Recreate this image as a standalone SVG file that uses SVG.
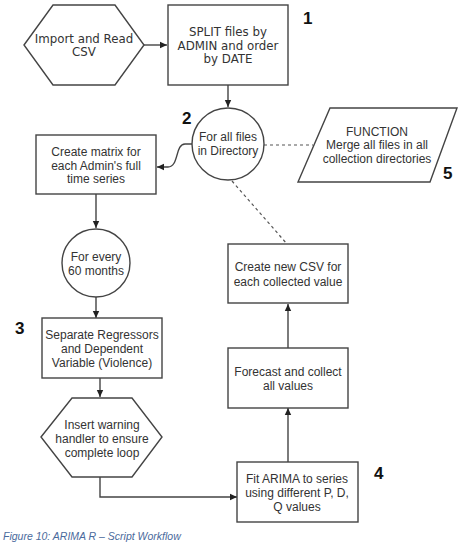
<svg xmlns="http://www.w3.org/2000/svg" width="469" height="560" viewBox="0 0 469 560">
<defs>
<marker id="ah" markerWidth="8" markerHeight="8" refX="7" refY="4" orient="auto" markerUnits="userSpaceOnUse">
<path d="M0,0.8 L7,4 L0,7.2 Z" fill="#222"/>
</marker>
<style>
.shape{fill:#fff;stroke:#444;stroke-width:1.4}
.t{font-family:"Liberation Sans",Arial,sans-serif;font-size:12px;fill:#333;text-anchor:middle}
.tv{font-family:"DejaVu Sans",Verdana,sans-serif;font-size:11.8px;fill:#333;text-anchor:middle}
.num{font-family:"Liberation Sans",Arial,sans-serif;font-size:17px;font-weight:bold;fill:#111}
.conn{fill:none;stroke:#444;stroke-width:1.4}
.dash{fill:none;stroke:#555;stroke-width:1.2;stroke-dasharray:3,3}
.cap{font-family:"Liberation Sans",Arial,sans-serif;font-size:10.5px;font-style:italic;fill:#4a6a9c}
</style>
</defs>
<rect width="469" height="560" fill="#fff"/>
<g id="connectors">
<line class="conn" x1="144" y1="45" x2="167" y2="45" marker-end="url(#ah)"/>
<line class="conn" x1="228" y1="85" x2="228" y2="107" marker-end="url(#ah)"/>
<path class="conn" d="M193,144 L185,144 C175,144 179,167 168,167 L157,167" marker-end="url(#ah)"/>
<line class="conn" x1="96" y1="194" x2="96" y2="228" marker-end="url(#ah)"/>
<line class="conn" x1="96" y1="297" x2="96" y2="318" marker-end="url(#ah)"/>
<line class="conn" x1="100" y1="378" x2="100" y2="397" marker-end="url(#ah)"/>
<path class="conn" d="M100,477 L100,497 L237,497" marker-end="url(#ah)"/>
<line class="conn" x1="288" y1="462" x2="288" y2="408" marker-end="url(#ah)"/>
<line class="conn" x1="288" y1="348" x2="288" y2="304" marker-end="url(#ah)"/>
<line class="dash" x1="264" y1="145" x2="313" y2="145"/>
<line class="dash" x1="232" y1="181" x2="287" y2="244"/>
</g>
<g id="n-import">
<polygon class="shape" points="24,45 53,5 115,5 144,45 115,85 53,85"/>
<text class="tv" x="84" y="43">Import and Read</text>
<text class="tv" x="84" y="56">CSV</text>
</g>
<g id="n-split">
<rect class="shape" x="168" y="5" width="120" height="80"/>
<text class="tv" x="228" y="36">SPLIT files by</text>
<text class="tv" x="228" y="50">ADMIN and order</text>
<text class="tv" x="228" y="63">by DATE</text>
</g>
<g id="n-dir">
<circle class="shape" cx="228" cy="144" r="36"/>
<text class="t" x="228" y="141">For all files</text>
<text class="t" x="228" y="155">in Directory</text>
</g>
<g id="n-function">
<polygon class="shape" points="330,108 457,108 430,182 298,182"/>
<text class="t" x="377" y="136">FUNCTION</text>
<text class="t" x="377" y="149">Merge all files in all</text>
<text class="t" x="377" y="163">collection directories</text>
</g>
<g id="n-matrix">
<rect class="shape" x="36" y="135" width="120" height="59"/>
<text class="t" x="96" y="156">Create matrix for</text>
<text class="t" x="96" y="170">each Admin's full</text>
<text class="t" x="96" y="183">time series</text>
</g>
<g id="n-every">
<circle class="shape" cx="96" cy="263" r="34"/>
<text class="t" x="96" y="261">For every</text>
<text class="t" x="96" y="275">60 months</text>
</g>
<g id="n-separate">
<rect class="shape" x="42" y="318" width="120" height="60"/>
<text class="t" x="102" y="339">Separate Regressors</text>
<text class="t" x="102" y="353">and Dependent</text>
<text class="t" x="102" y="367">Variable (Violence)</text>
</g>
<g id="n-warning">
<polygon class="shape" points="41,437 72,398 132,398 162,437 132,477 72,477"/>
<text class="t" x="102" y="429">Insert warning</text>
<text class="t" x="102" y="443">handler to ensure</text>
<text class="t" x="102" y="457">complete loop</text>
</g>
<g id="n-fit">
<rect class="shape" x="237" y="462" width="121" height="60"/>
<text class="t" x="297" y="483">Fit ARIMA to series</text>
<text class="t" x="297" y="497">using different P, D,</text>
<text class="t" x="297" y="511">Q values</text>
</g>
<g id="n-forecast">
<rect class="shape" x="228" y="348" width="120" height="60"/>
<text class="t" x="288" y="376">Forecast and collect</text>
<text class="t" x="288" y="390">all values</text>
</g>
<g id="n-newcsv">
<rect class="shape" x="228" y="244" width="120" height="59"/>
<text class="t" x="288" y="271">Create new CSV for</text>
<text class="t" x="288" y="286">each collected value</text>
</g>
<g id="labels">
<text class="num" x="303" y="24">1</text>
<text class="num" x="182" y="124">2</text>
<text class="num" x="15" y="334">3</text>
<text class="num" x="374" y="479">4</text>
<text class="num" x="443" y="179">5</text>
</g>
<text class="cap" x="3" y="540">Figure 10: ARIMA R – Script Workflow</text>
</svg>
